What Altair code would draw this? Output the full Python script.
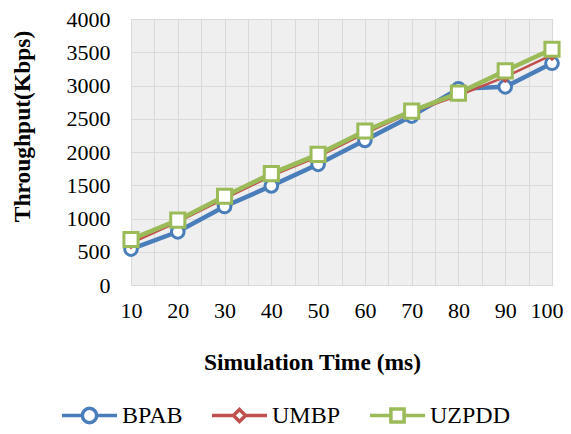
import altair as alt
import pandas as pd

times = [10, 20, 30, 40, 50, 60, 70, 80, 90, 100]
bpab = [540, 800, 1180, 1490, 1815, 2175, 2540, 2950, 2980, 3335]
umbp = [630, 950, 1300, 1640, 1930, 2280, 2600, 2850, 3130, 3460]
uzpdd = [685, 975, 1335, 1675, 1965, 2315, 2615, 2885, 3220, 3545]

series = ["BPAB", "UMBP", "UZPDD"]
colors = ["#4A7EBB", "#C0504D", "#9BBB59"]
line_widths = [4.5, 2.5, 4.5]
marker_shapes = ["circle", "diamond", "square"]
marker_sizes = [160, 70, 200]

rows = []
for name, vals in zip(series, [bpab, umbp, uzpdd]):
    for t, v in zip(times, vals):
        rows.append({"time": t, "throughput": v, "series": name})
df = pd.DataFrame(rows)

# legend glyphs: line with marker in the middle (custom paths, unit box -1..1)
r = 0.26
legend_paths = [
    f"M-1,0H-{r} M{r},0H1 M{r},0A{r},{r} 0 1,1 -{r},0A{r},{r} 0 1,1 {r},0Z",
    "M-1,0H-0.22 M0.22,0H1 M0,-0.22L0.22,0L0,0.22L-0.22,0Z",
    "M-1,0H-0.24 M0.24,0H1 M-0.24,-0.24H0.24V0.24H-0.24Z",
]

FONT = "Liberation Serif"

x = alt.X(
    "time:Q",
    scale=alt.Scale(domain=[10, 100], nice=False),
    axis=alt.Axis(
        values=list(range(10, 101, 5)),
        labelExpr="datum.value % 10 == 0 ? datum.label : ''",
        labelFlush=True,
        labelFlushOffset=11,
        title="Simulation Time (ms)",
        titleX=181,
        titleY=84,
        titleAlign="center",
        titleBaseline="alphabetic",
    ),
)
y = alt.Y(
    "throughput:Q",
    scale=alt.Scale(domain=[0, 4000], nice=False),
    axis=alt.Axis(
        values=list(range(0, 4001, 500)),
        format="d",
        title="Throughput(Kbps)",
        titleX=-109,
        titleY=107,
        titleAngle=-90,
        titleAlign="center",
        titleBaseline="middle",
    ),
)

layers = []
for name, col, lw, shp, sz in zip(series, colors, line_widths, marker_shapes, marker_sizes):
    base = alt.Chart(df).transform_filter(alt.datum.series == name)
    layers.append(base.mark_line(color=col, strokeWidth=lw).encode(x=x, y=y))
    layers.append(
        base.mark_point(
            shape=shp, size=sz, filled=False, fill="white", fillOpacity=1,
            stroke=col, strokeWidth=3, opacity=1,
        ).encode(x=x, y=y)
    )

legend_props = dict(
    title=None,
    orient="none",
    direction="horizontal",
    legendX=-71,
    legendY=367,
    gridAlign="none",
    symbolSize=3025,
    symbolStrokeWidth=3.5,
    symbolFillColor="white",
    symbolOpacity=1,
    labelFont=FONT,
    labelFontSize=24,
    labelColor="black",
    labelOffset=3,
    columnPadding=22,
    padding=0,
)

legend_layer = alt.Chart(df).mark_point(filled=False, opacity=0).encode(
    x=x, y=y,
    color=alt.Color("series:N", scale=alt.Scale(domain=series, range=colors),
                    legend=alt.Legend(**legend_props)),
    shape=alt.Shape("series:N", scale=alt.Scale(domain=series, range=legend_paths),
                    legend=alt.Legend(**legend_props)),
)

chart = (
    alt.layer(*layers, legend_layer)
    .properties(
        width=421,
        height=266,
        autosize=alt.AutoSizeParams(type="none"),
        padding={"left": 123, "top": 11, "right": 11, "bottom": 141},
    )
    .configure_view(fill="#efefef", stroke="#d9d9d9", strokeWidth=1)
    .configure_axis(
        grid=True,
        gridColor="#d9d9d9",
        gridWidth=1,
        domain=False,
        ticks=False,
        labelFont=FONT,
        labelFontSize=22,
        labelColor="black",
        titleFont=FONT,
        titleFontSize=23.5,
        titleFontWeight="bold",
        titleColor="black",
    )
    .configure_axisX(labelPadding=15)
    .configure_axisY(labelPadding=21)
)

chart.save("out.html", embed_options={"renderer": "svg", "actions": False})
